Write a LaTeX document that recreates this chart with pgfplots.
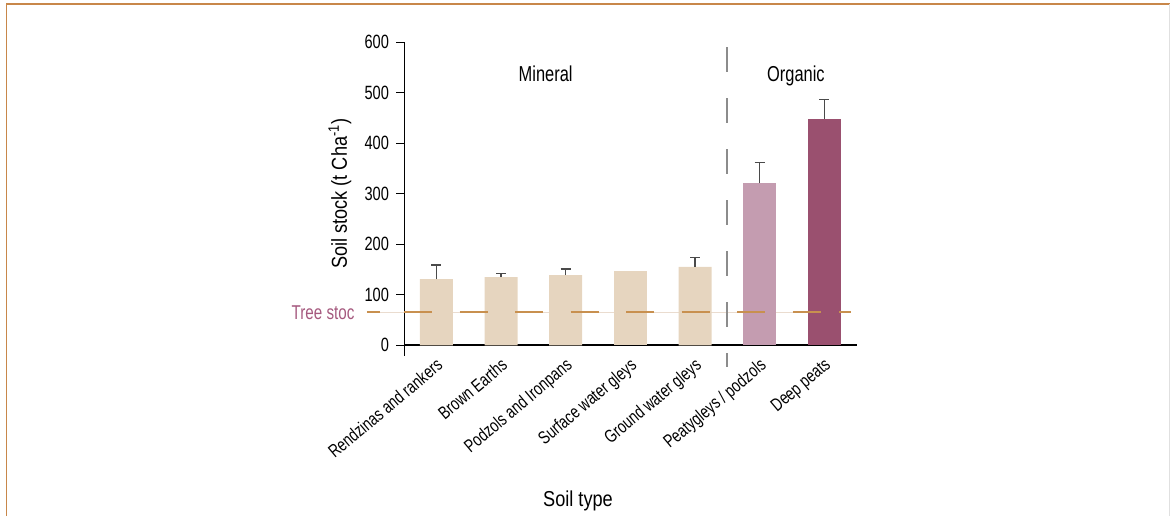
\documentclass[border=0pt]{standalone}
\usepackage{pgfplots}
\pgfplotsset{compat=1.18}
\usepackage{fontspec}
\setmainfont[FakeStretch=0.84]{Liberation Sans}
\newfontfamily\tickfont[FakeStretch=0.76]{Liberation Sans}
\definecolor{beige}{HTML}{E6D5BF}
\definecolor{pinkbar}{HTML}{C49CB0}
\definecolor{darkbar}{HTML}{9A506F}
\definecolor{treepink}{HTML}{A5597E}
\definecolor{dashor}{HTML}{C8904F}
\definecolor{treefaint}{HTML}{EADCCF}
\definecolor{framec}{HTML}{C8874A}
\definecolor{vgray}{HTML}{8C8C8C}
\definecolor{errc}{HTML}{4A4A4A}
\begin{document}
\begin{tikzpicture}
\useasboundingbox (0,0) rectangle (585pt,258pt);
\draw[framec, line width=0.9pt] (3.2pt,0) -- (3.2pt,256pt) -- (585pt,256pt);
\draw[black!12, line width=0.6pt] (584.6pt,0) -- (584.6pt,256pt);
\begin{axis}[
  at={(202pt,85.35pt)}, anchor=south west, scale only axis,
  width=226.35pt, height=151.65pt,
  xmin=-0.5, xmax=6.5, ymin=0, ymax=600,
  axis x line*=bottom, axis y line*=left,
  x axis line style={line width=1pt,-},
  y axis line style={line width=0.5pt,-},
  xtick={0,1,2,3,4,5,6},
  xticklabels={Rendzinas and rankers, Brown Earths, Podzols and Ironpans, Surface water gleys, Ground water gleys, Peatygleys / podzols, Deep peats},
  x tick style={draw=none},
  ytick={0,100,200,300,400,500,600},
  tick align=outside, major tick length=4pt,
  y tick style={black, line width=0.5pt},
  /pgf/number format/assume math mode=true,
  yticklabel style={font=\tickfont\fontsize{9.6}{10}\selectfont},
  xticklabel style={rotate=40, anchor=north east, font=\tickfont\fontsize{9.1}{10}\selectfont, inner sep=1pt, xshift=-0.5pt},
  ylabel={Soil stock (t Cha\textsuperscript{-1})},
  ylabel style={at={(axis description cs:-0.1414,0.5)}, anchor=center, font=\fontsize{10.8}{12}\selectfont},
  xlabel={Soil type},
  xlabel style={at={(axis description cs:0.3844,-0.512)}, anchor=center, font=\fontsize{10.8}{12}\selectfont},
  clip=false,
]
% faint tree stock line
\addplot[draw=treefaint, line width=0.5pt] coordinates {(-1.075,65) (6.41,65)};
% bars
\addplot[ybar, bar width=16.5pt, bar shift=0pt, fill=beige, draw=none,
  error bars/.cd, y dir=plus, y explicit,
  error bar style={errc, line width=0.6pt},
  error mark options={errc, rotate=90, line width=0.6pt, mark size=2.5pt}]
  coordinates {(0,131) +- (0,28) (1,135) +- (0,7) (2,139) +- (0,12) (4,155) +- (0,19)};
\addplot[ybar, bar width=16.5pt, bar shift=0pt, fill=beige, draw=none]
  coordinates {(3,147)};
\addplot[ybar, bar width=16.5pt, bar shift=0pt, fill=pinkbar, draw=none,
  error bars/.cd, y dir=plus, y explicit,
  error bar style={errc, line width=0.6pt},
  error mark options={errc, rotate=90, line width=0.6pt, mark size=2.5pt}]
  coordinates {(5,321) +- (0,40)};
\addplot[ybar, bar width=16.5pt, bar shift=0pt, fill=darkbar, draw=none,
  error bars/.cd, y dir=plus, y explicit,
  error bar style={errc, line width=0.6pt},
  error mark options={errc, rotate=90, line width=0.6pt, mark size=2.5pt}]
  coordinates {(6,448) +- (0,39)};
% tree stock dashed line
\addplot[draw=dashor, line width=1pt, dash pattern=on 14pt off 13.75pt] coordinates {(-0.5,65) (6.21,65)};
\addplot[draw=dashor, line width=1pt] coordinates {(-1.075,65) (-0.874,65)};
\addplot[draw=dashor, line width=1pt] coordinates {(6.224,65) (6.41,65)};
% vertical divider
\addplot[draw=vgray, line width=1pt, dash pattern=on 12.5pt off 13pt] coordinates {(4.5,590) (4.5,-43.5)};
% y axis extension below 0
\addplot[draw=black, line width=0.5pt] coordinates {(-0.5,0) (-0.5,-21)};
\node[anchor=east, text=treepink, font=\tickfont\fontsize{10}{11}\selectfont, inner sep=0pt] at (axis cs:-1.26,65) {Tree stoc};
\node[anchor=base, font=\tickfont\fontsize{10.8}{12}\selectfont, inner sep=0pt] at (axis cs:1.69,521.5) {Mineral};
\node[anchor=base, font=\tickfont\fontsize{10.8}{12}\selectfont, inner sep=0pt] at (axis cs:5.56,521.5) {Organic};
\end{axis}
\end{tikzpicture}
\end{document}
